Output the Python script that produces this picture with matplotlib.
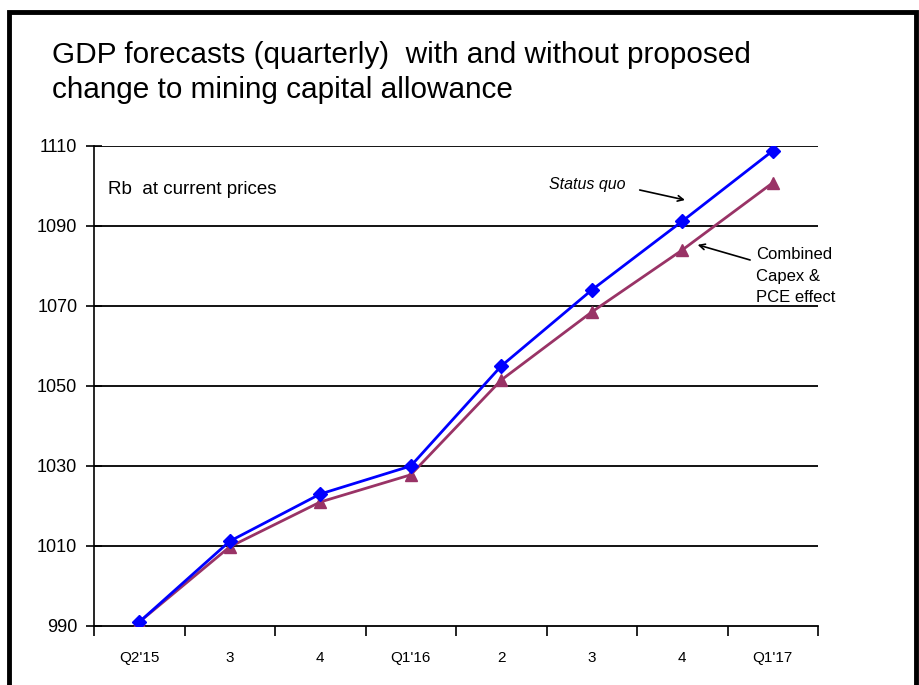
import matplotlib.pyplot as plt
from matplotlib.patches import Rectangle

# Data
quarters = ["Q2'15", "3", "4", "Q1'16", "2", "3", "4", "Q1'17"]
status_quo = [991, 1011.2, 1023, 1030, 1055, 1074, 1091.2, 1108.8]
combined = [991, 1009.8, 1021, 1027.8, 1051.5, 1068.5, 1084, 1100.8]
y_ticks = [990, 1010, 1030, 1050, 1070, 1090, 1110]

BLUE = "#0000ff"
PLUM = "#993366"

plt.rcParams['font.family'] = ['Liberation Sans', 'DejaVu Sans']

fig = plt.figure(figsize=(9.19, 6.85), dpi=100)
ax = fig.add_axes([94 / 919, 1 - 626 / 685, (818 - 94) / 919, (626 - 146) / 685])

x = list(range(len(quarters)))
ax.plot(x, status_quo, '-', color=BLUE, lw=2, marker='D', ms=7,
        markerfacecolor=BLUE, markeredgecolor=BLUE, zorder=4)
ax.plot(x, combined, '-', color=PLUM, lw=2, marker='^', ms=9,
        markerfacecolor=PLUM, markeredgecolor=PLUM, zorder=3)

ax.set_xlim(-0.5, len(quarters) - 0.5)
ax.set_ylim(990, 1110)
ax.set_yticks(y_ticks)
ax.set_yticklabels([str(v) for v in y_ticks], fontsize=13)
for v in y_ticks[1:]:
    ax.axhline(v, color='black', lw=1.3, zorder=1)

# category labels sit between the boundary ticks
ax.set_xticks([i - 0.5 for i in range(len(quarters) + 1)])
ax.set_xticklabels([])
ax.set_xticks(x, minor=True)
ax.set_xticklabels(quarters, minor=True, fontsize=11)
ax.tick_params(axis='x', which='minor', length=0, pad=18)
ax.tick_params(axis='x', which='major', length=7, direction='out', width=1.2)
ax.tick_params(axis='y', length=12, direction='inout', width=1.2, pad=6)
ax.spines['right'].set_visible(False)
ax.spines['top'].set_visible(False)
ax.spines['left'].set_linewidth(1.2)
ax.spines['bottom'].set_linewidth(1.3)

ax.text(14 / 724, 1 - 44 / 480, "Rb  at current prices", transform=ax.transAxes,
        fontsize=13.5, ha='left', va='center')

# annotations
ax.text(4.95, 1100.4, "Status quo", fontsize=11.5, style='italic',
        ha='center', va='center')
ax.annotate("", xy=(6.03, 1096.5), xytext=(5.53, 1099),
            arrowprops=dict(arrowstyle='->', color='black', lw=1.2,
                            shrinkA=0, shrinkB=0))
ax.annotate("", xy=(6.17, 1085.3), xytext=(6.75, 1081.5),
            arrowprops=dict(arrowstyle='->', color='black', lw=1.2,
                            shrinkA=0, shrinkB=0))
ax.text(6.82, 1077.5, "Combined\nCapex &\nPCE effect", fontsize=12,
        ha='left', va='center', linespacing=1.55)

fig.text(52 / 919, 1 - 63 / 685, "GDP forecasts (quarterly)  with and without proposed",
         fontsize=21.4, ha='left', va='baseline')
fig.text(52 / 919, 1 - 98 / 685, "change to mining capital allowance",
         fontsize=21.4, ha='left', va='baseline')

# outer frame
fig.add_artist(Rectangle((9 / 919, -0.05), (916 - 9) / 919, 1.05 - 12 / 685,
                         transform=fig.transFigure, fill=False,
                         edgecolor='black', lw=3.5))

fig.savefig("out.png", dpi=100, facecolor='white')
